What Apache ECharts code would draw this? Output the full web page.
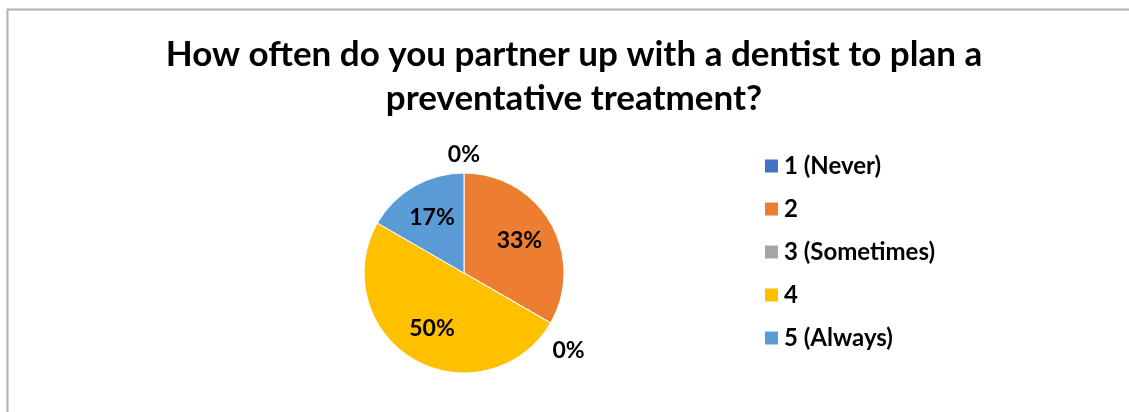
<!DOCTYPE html>
<html>
<head>
<meta charset="utf-8">
<script src="https://cdn.jsdelivr.net/npm/echarts@6/dist/echarts.min.js"></script>
<style>
  html, body { margin: 0; padding: 0; background: #fff; }
  #main { width: 1129px; height: 412px; }
</style>
</head>
<body>
<div id="main"></div>
<script>
var categories = ['1 (Never)', '2', '3 (Sometimes)', '4', '5 (Always)'];
var counts = [0, 2, 0, 3, 1];
var colors = ['#4472C4', '#ED7D31', '#A5A5A5', '#FFC000', '#5B9BD5'];
var titleText = 'How often do you partner up with a dentist to plan a\npreventative treatment?';
// small nudges for the two zero-slice labels (top and lower right)
var zeroLabelOffsets = { '1 (Never)': [21, -10], '3 (Sometimes)': [-10, 24] };

var myChart = echarts.init(document.getElementById('main'));

var labelStyle = {
  fontSize: 23,
  fontWeight: 'bold',
  color: '#000',
  fontFamily: 'Lato'
};

// colored slices, no labels
var sliceData = categories.map(function (name, i) {
  return { name: name, value: counts[i], itemStyle: { color: colors[i] } };
});

// transparent copy used only to place the data labels a bit further out
var labelData = categories.map(function (name, i) {
  var item = { name: name, value: counts[i] };
  if (counts[i] === 0) {
    item.label = { position: 'outside', offset: zeroLabelOffsets[name] };
  }
  return item;
});

var option = {
  animation: false,
  textStyle: { fontFamily: 'Lato' },
  graphic: [{
    type: 'rect',
    shape: { x: 7.5, y: 9.5, width: 1300, height: 600 },
    style: { fill: 'none', stroke: '#b0b0b0', lineWidth: 2 },
    silent: true
  }, {
    type: 'text',
    x: 574,
    y: 33,
    silent: true,
    style: {
      text: titleText,
      align: 'center',
      verticalAlign: 'top',
      fontSize: 35,
      fontWeight: 'bold',
      lineHeight: 44,
      fontFamily: 'Lato',
      fill: '#000'
    }
  }],
  legend: {
    orient: 'vertical',
    left: 758,
    top: 149,
    icon: 'rect',
    itemWidth: 15,
    itemHeight: 15,
    itemGap: 19,
    data: categories,
    textStyle: { fontSize: 24, lineHeight: 24, fontWeight: 'bold', color: '#000', fontFamily: 'Lato' }
  },
  series: [{
    type: 'pie',
    center: [464, 273],
    radius: [0, 100],
    startAngle: 90,
    clockwise: true,
    itemStyle: { borderColor: '#fff', borderWidth: 1 },
    label: { show: false },
    labelLine: { show: false },
    data: sliceData
  }, {
    type: 'pie',
    silent: true,
    center: [464, 273],
    radius: [22, 100],
    startAngle: 90,
    clockwise: true,
    avoidLabelOverlap: false,
    itemStyle: { color: 'rgba(0,0,0,0)' },
    label: Object.assign({
      show: true,
      position: 'inside',
      formatter: function (p) { return Math.round(p.percent) + '%'; }
    }, labelStyle),
    labelLine: { show: false, length: 8, length2: 0 },
    data: labelData
  }]
};
myChart.setOption(option);
</script>
</body>
</html>
